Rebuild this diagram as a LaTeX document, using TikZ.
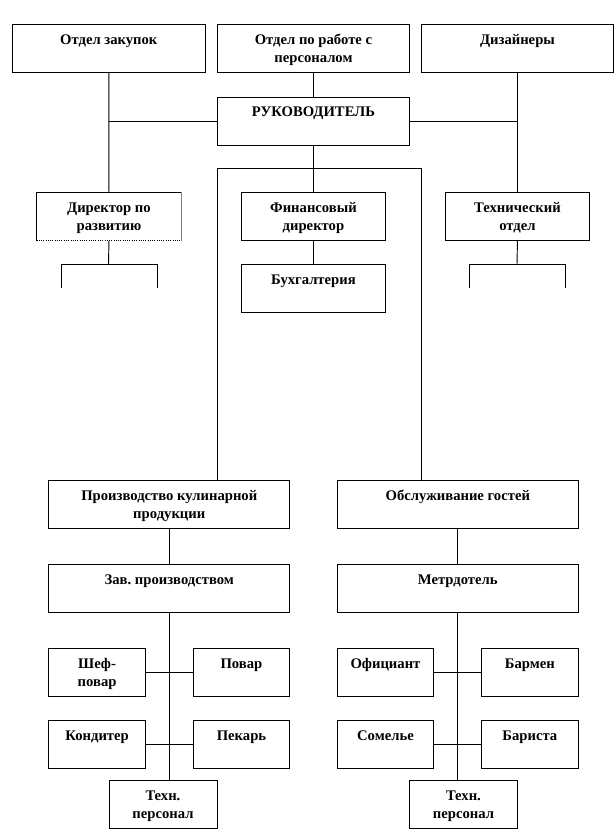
\documentclass[tikz,border=0pt]{standalone}
\usepackage{fontspec}
\setmainfont{Liberation Serif}
\frenchspacing
\begin{document}
\begin{tikzpicture}[x=0.75pt,y=-0.75pt,
  box/.style={draw, line width=0.7pt, anchor=north west, minimum height=36pt,
    inner xsep=2pt, inner ysep=0pt, text height=15pt, text depth=21pt,
    align=center, font=\fontsize{11}{13.5}\selectfont\bfseries},
  two/.style={text height=28.5pt, text depth=7.5pt},
  ln/.style={line width=0.7pt}]
\useasboundingbox (0,0) rectangle (615,840);
% top row
\node[box, minimum width=144.5pt] (zak) at (12,24) {Отдел закупок};
\node[box, two, minimum width=144pt] (per) at (217,24) {Отдел по работе с\\персоналом};
\node[box, minimum width=144pt] (diz) at (421,24) {Дизайнеры};
\node[box, minimum width=144pt] (ruk) at (217,96.5) {РУКОВОДИТЕЛЬ};
% second row
\node[box, two, draw=none, minimum width=108pt] (dir) at (36.5,192) {Директор по\\развитию};
\draw[ln] (dir.south west) -- (dir.north west) -- (dir.north east);
\draw[ln, gray] (dir.north east) -- (dir.south east);
\draw[ln, densely dotted] (dir.south west) -- (dir.south east);
\node[box, two, minimum width=108pt] (fin) at (241,192) {Финансовый\\директор};
\node[box, two, minimum width=108pt] (teh) at (445,192) {Технический\\отдел};
\node[box, minimum width=108pt] (buh) at (241,264) {Бухгалтерия};
% lower part
\node[box, two, minimum width=180.75pt] (prod) at (48.3,480) {Производство кулинарной\\продукции};
\node[box, minimum width=180.5pt] (obs) at (337,480) {Обслуживание гостей};
\node[box, minimum width=180.75pt] (zav) at (48.3,564) {Зав. производством};
\node[box, minimum width=180.5pt] (met) at (337,564) {Метрдотель};
\node[box, two, minimum width=72.5pt] (shef) at (48.3,648) {Шеф-\\повар};
\node[box, minimum width=72pt] (pov) at (193,648) {Повар};
\node[box, minimum width=72.5pt] (kon) at (48.3,720) {Кондитер};
\node[box, minimum width=72pt] (pek) at (193,720) {Пекарь};
\node[box, two, minimum width=81pt] (tl) at (108.5,780) {Техн.\\персонал};
\node[box, minimum width=72pt] (ofi) at (337,648) {Официант};
\node[box, minimum width=72.5pt] (bam) at (481,648) {Бармен};
\node[box, minimum width=72pt] (som) at (337,720) {Сомелье};
\node[box, minimum width=72.5pt] (bar) at (481,720) {Бариста};
\node[box, two, minimum width=81pt] (tr) at (409,780) {Техн.\\персонал};
% coordinates
\coordinate (bl) at (217,168);
\coordinate (br) at (421,168);
\coordinate (dj) at (108.5,264);
\coordinate (dl) at (61,264);
\coordinate (dr) at (157,264);
\coordinate (dle) at (61,288);
\coordinate (dre) at (157,288);
\coordinate (tj) at (517,264);
\coordinate (tl1) at (469.5,264);
\coordinate (tr1) at (565.5,264);
\coordinate (tle) at (469.5,288);
\coordinate (tre) at (565.5,288);
% connectors
\draw[ln] (zak.south) -- (dir.north);
\draw[ln] (ruk.west) -- (ruk.west -| zak.south);
\draw[ln] (diz.south) -- (teh.north);
\draw[ln] (ruk.east) -- (ruk.east -| diz.south);
\draw[ln] (per.south) -- (ruk.north);
\draw[ln] (ruk.south) -- (fin.north);
\draw[ln] (prod.north -| bl) -- (bl) -- (br) -- (obs.north -| br);
\draw[ln] (fin.south) -- (buh.north);
\draw[ln] (dir.south) -- (dj);
\draw[ln] (dle) -- (dl) -- (dr) -- (dre);
\draw[ln] (teh.south) -- (tj);
\draw[ln] (tle) -- (tl1) -- (tr1) -- (tre);
\draw[ln] (prod.south) -- (zav.north);
\draw[ln] (zav.south) -- (zav.south |- tl.north);
\draw[ln] (shef.east) -- (pov.west);
\draw[ln] (kon.east) -- (pek.west);
\draw[ln] (obs.south) -- (met.north);
\draw[ln] (met.south) -- (met.south |- tr.north);
\draw[ln] (ofi.east) -- (bam.west);
\draw[ln] (som.east) -- (bar.west);
\end{tikzpicture}
\end{document}
